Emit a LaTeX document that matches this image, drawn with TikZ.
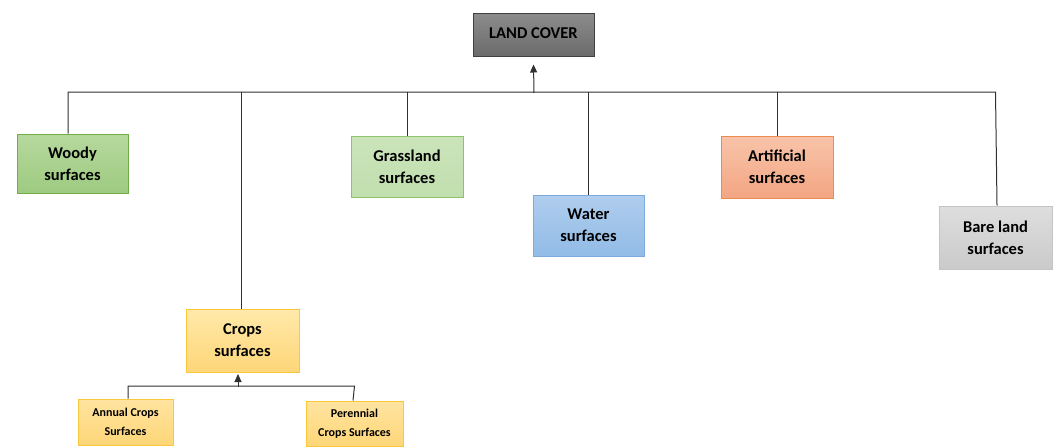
\documentclass[tikz,border=0pt]{standalone}
\usepackage{fontspec}
\setmainfont{Carlito}
\usetikzlibrary{arrows.meta}
\definecolor{lineclr}{HTML}{303030}
\tikzset{
  box/.style={draw, line width=1pt, rectangle, inner sep=0pt, align=center,
    text=black, font=\bfseries\fontsize{16.5}{22}\selectfont},
  small/.style={font=\bfseries\fontsize{12}{19}\selectfont},
  conn/.style={draw=lineclr, line width=1pt},
  arr/.style={conn, -{Triangle[length=8pt,width=7pt]}},
}
\begin{document}
\begin{tikzpicture}[x=1pt,y=-1pt]
\useasboundingbox (0,0) rectangle (1064,447);
\node[box, draw=black!75, top color=black!45, bottom color=black!58,
  minimum width=121pt, minimum height=43pt] (lc) at (533.5,34.5) {\raisebox{2pt}{LAND COVER}};
\node[box, draw={rgb,255:red,112;green,173;blue,71},
  top color={rgb,255:red,182;green,216;blue,158}, bottom color={rgb,255:red,158;green,203;blue,128},
  minimum width=111pt, minimum height=59pt] (woody) at (72.5,163.5) {Woody\\surfaces};
\node[box, draw={rgb,255:red,140;green,196;blue,104},
  top color={rgb,255:red,203;green,228;blue,186}, bottom color={rgb,255:red,193;green,223;blue,175},
  minimum width=112pt, minimum height=61pt] (grass) at (407,166.5) {Grassland\\surfaces};
\node[box, draw={rgb,255:red,124;green,170;blue,219},
  top color={rgb,255:red,176;green,206;blue,238}, bottom color={rgb,255:red,145;green,187;blue,230},
  minimum width=111pt, minimum height=61pt] (water) at (588.5,225.5) {Water\\surfaces};
\node[box, draw={rgb,255:red,237;green,139;blue,78},
  top color={rgb,255:red,248;green,196;blue,170}, bottom color={rgb,255:red,243;green,165;blue,130},
  minimum width=112pt, minimum height=62pt] (art) at (777,167) {Artificial\\surfaces};
\node[box, draw={rgb,255:red,196;green,196;blue,196},
  top color={rgb,255:red,222;green,222;blue,222}, bottom color={rgb,255:red,202;green,202;blue,202},
  minimum width=113pt, minimum height=63pt] (bare) at (995.5,237.5) {Bare land\\surfaces};
\node[box, draw={rgb,255:red,250;green,200;blue,60},
  top color={rgb,255:red,255;green,233;blue,170}, bottom color={rgb,255:red,254;green,214;blue,120},
  minimum width=113pt, minimum height=63pt] (crops) at (242.5,340.5) {Crops\\surfaces};
\node[box, small, draw={rgb,255:red,250;green,200;blue,60},
  top color={rgb,255:red,255;green,228;blue,160}, bottom color={rgb,255:red,254;green,214;blue,120},
  minimum width=95pt, minimum height=46pt] (annual) at (125.5,422) {Annual Crops\\Surfaces};
\node[box, small, draw={rgb,255:red,250;green,200;blue,60},
  top color={rgb,255:red,255;green,228;blue,160}, bottom color={rgb,255:red,254;green,214;blue,120},
  minimum width=97pt, minimum height=45pt] (peren) at (354.5,423.5) {Perennial\\Crops Surfaces};
% main bus
\coordinate (bus) at (0,92);
\coordinate (lcfoot) at (534,93);
\draw[conn] ([xshift=-4.5pt]woody.north) |- (bus -| bare.north) -- ([xshift=1.5pt]bare.north);
\draw[conn] ([xshift=-1.5pt]crops.north) -- ([xshift=-1.5pt]crops.north |- bus);
\draw[conn] (grass.north) -- (grass.north |- bus);
\draw[conn] (water.north) -- (water.north |- bus);
\draw[conn] (art.north) -- (art.north |- bus);
\draw[arr] (lcfoot) -- ([yshift=-8pt]lc.south);
% crops sub-bus
\coordinate (sbus) at (0,386);
\coordinate (cfoot) at (238,387);
\draw[conn] ([xshift=2.5pt]annual.north) |- (sbus -| peren.north) -- ([xshift=-1.5pt]peren.north);
\draw[arr] (cfoot) -- ([yshift=-1.5pt,xshift=-4.5pt]crops.south);
\end{tikzpicture}
\end{document}
